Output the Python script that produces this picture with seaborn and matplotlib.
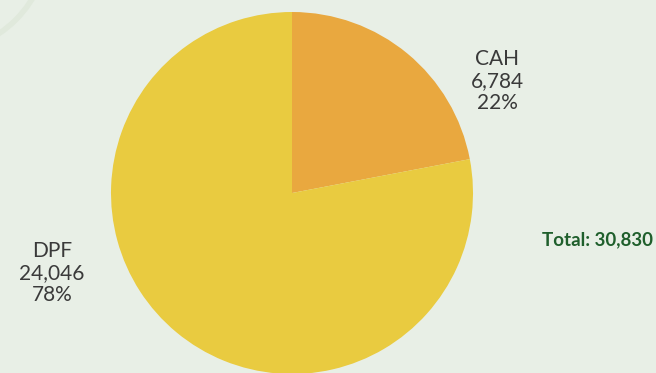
import matplotlib
matplotlib.use("Agg")
import matplotlib.pyplot as plt
import seaborn as sns
from matplotlib.patches import Circle

categories = ["CAH", "DPF"]
values = [6784, 24046]
percents = ["22%", "78%"]
value_labels = ["6,784", "24,046"]
total_label = "Total: 30,830"

sns.set_theme(style="white")
plt.rcParams['font.family'] = ['Lato', 'DejaVu Sans']

bg = "#e8efe6"
colors = ["#e9a83f", "#e9cb40"]

fig = plt.figure(figsize=(6.56, 3.73), dpi=100, facecolor=bg)
ax = fig.add_axes([0, 0, 1, 1])
ax.set_facecolor(bg)

# y axis is inverted below, so start at -90 and go counterclockwise in data
# space, which appears clockwise from the top on screen
ax.pie(values, colors=colors, startangle=-90, counterclock=True,
       center=(292, 193), radius=181, frame=True,
       wedgeprops=dict(linewidth=0))
ax.set_xlim(0, 656)
ax.set_ylim(373, 0)
ax.set_aspect("equal")
ax.axis("off")

# decorative faint arc
ax.add_patch(Circle((-62, -58), 110, fill=False, lw=4, ec="#e0e9dc"))

txt_kw = dict(ha="center", va="center", fontsize=15, color="#3a3a3a",
              linespacing=1.12)
ax.text(497, 81, f"{categories[0]}\n{value_labels[0]}\n{percents[0]}", **txt_kw)
ax.text(52, 273, f"{categories[1]}\n{value_labels[1]}\n{percents[1]}", **txt_kw)

ax.text(653, 240, total_label, ha="right", va="center", fontsize=13.5,
        fontweight="bold", color="#1f5f2c")

fig.savefig("out.png", dpi=100, facecolor=bg)
